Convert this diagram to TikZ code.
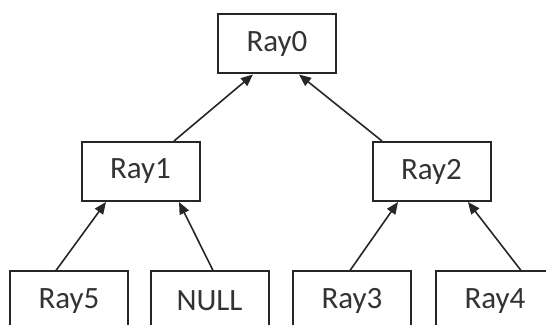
\documentclass[tikz,border=0pt]{standalone}
\usepackage{fontspec}
\setmainfont{Carlito}
\usetikzlibrary{calc, arrows.meta, positioning}

\begin{document}
\begin{tikzpicture}[
        x=0.5pt, y=-0.5pt,
        ray/.style={rectangle, draw=black!85, line width=1pt, fill=white, minimum width=59pt, minimum height=29.5pt, inner sep=0pt, text=black!80, font=\fontsize{15.5}{18}\selectfont},
        arrow/.style={-{Triangle[length=6pt, width=5pt]}, line width=0.8pt, draw=black!85}
    ]
    \useasboundingbox (0,0) rectangle (546,325);
    \clip (0,0) rectangle (546,325);

    \node[ray] (ray0) at (277,44) {Ray0};
    \node[ray] (ray1) at (140.5,171.5) {Ray1};
    \node[ray] (ray2) at (431.5,171.5) {Ray2};
    \node[ray] (ray5) at (69,301) {Ray5};
    \node[ray] (null) at (209.5,301) {NULL};
    \node[ray] (ray3) at (352,301) {Ray3};
    \node[ray] (ray4) at (495,301) {Ray4};

    \draw[arrow] ([xshift=16.75pt]ray1.north) -- ([xshift=-12pt]ray0.south);
    \draw[arrow] ([xshift=-24.75pt]ray2.north) -- ([xshift=11pt]ray0.south);
    \draw[arrow] ([xshift=-6.5pt]ray5.north) -- ([xshift=-17.25pt]ray1.south);
    \draw[arrow] ([xshift=1.75pt]null.north) -- ([xshift=19.25pt]ray1.south);
    \draw[arrow] ([xshift=-1pt]ray3.north) -- ([xshift=-16.75pt]ray2.south);
    \draw[arrow] ([xshift=13pt]ray4.north) -- ([xshift=18.25pt]ray2.south);
\end{tikzpicture}
\end{document}
